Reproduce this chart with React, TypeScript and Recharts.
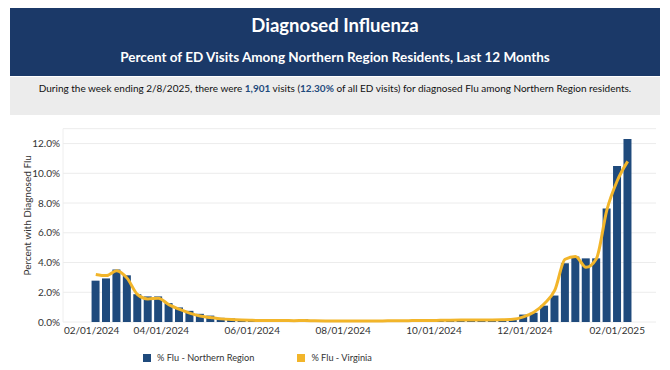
import React from "react";
import {
  ComposedChart,
  Bar,
  Line,
  XAxis,
  YAxis,
  CartesianGrid,
  Legend,
  Label,
} from "recharts";

// week ending dates (Saturdays)
const weekEnding = [
  "2024-02-17", "2024-02-24", "2024-03-02", "2024-03-09", "2024-03-16", "2024-03-23",
  "2024-03-30", "2024-04-06", "2024-04-13", "2024-04-20", "2024-04-27", "2024-05-04",
  "2024-05-11", "2024-05-18", "2024-05-25", "2024-06-01", "2024-06-08", "2024-06-15",
  "2024-06-22", "2024-06-29", "2024-07-06", "2024-07-13", "2024-07-20", "2024-07-27",
  "2024-08-03", "2024-08-10", "2024-08-17", "2024-08-24", "2024-08-31", "2024-09-07",
  "2024-09-14", "2024-09-21", "2024-09-28", "2024-10-05", "2024-10-12", "2024-10-19",
  "2024-10-26", "2024-11-02", "2024-11-09", "2024-11-16", "2024-11-23", "2024-11-30",
  "2024-12-07", "2024-12-14", "2024-12-21", "2024-12-28", "2025-01-04", "2025-01-11",
  "2025-01-18", "2025-01-25", "2025-02-01", "2025-02-08",
];

// % Flu - Northern Region
const northernRegion = [
  2.78, 2.93, 3.53, 3.14, 1.87, 1.72, 1.72, 1.27, 0.98, 0.75, 0.55, 0.43,
  0.28, 0.24, 0.19, 0.12, 0.15, 0.19, 0.15, 0.1, 0.18, 0.08, 0.06, 0.07,
  0.06, 0.05, 0.06, 0.07, 0.08, 0.08, 0.09, 0.1, 0.1, 0.11, 0.12, 0.12,
  0.13, 0.12, 0.1, 0.1, 0.15, 0.5, 0.62, 1.1, 1.78, 3.95, 4.4, 4.28,
  4.28, 7.63, 10.49, 12.3,
];

// % Flu - Virginia
const virginia = [
  3.2, 3.12, 3.45, 2.95, 1.85, 1.55, 1.6, 1.17, 0.86, 0.6, 0.4, 0.3,
  0.21, 0.16, 0.13, 0.11, 0.1, 0.1, 0.1, 0.09, 0.1, 0.08, 0.07, 0.07,
  0.07, 0.06, 0.07, 0.07, 0.08, 0.08, 0.09, 0.1, 0.1, 0.11, 0.12, 0.13,
  0.14, 0.14, 0.14, 0.15, 0.18, 0.35, 0.66, 1.23, 2.12, 4.22, 4.4, 3.68,
  4.26, 7.52, 9.5, 10.8,
];

const xTickLabels = [
  "02/01/2024", "04/01/2024", "06/01/2024", "08/01/2024",
  "10/01/2024", "12/01/2024", "02/01/2025",
];
const xRange = ["2024-01-26", "2025-02-27"];
const yTicks = [0, 2, 4, 6, 8, 10, 12];

const NAVY = "#1b3968";
const BAR = "#1f4a7c";
const GOLD = "#f2b52a";
const FONT = "Lato, 'Open Sans', sans-serif";

const isoTime = (s: string) => Date.parse(s + "T00:00:00Z");
const labelTime = (s: string) => {
  const [m, d, y] = s.split("/").map(Number);
  return Date.UTC(y, m - 1, d);
};
const fmtDate = (t: number) => {
  const d = new Date(t);
  const mm = String(d.getUTCMonth() + 1).padStart(2, "0");
  const dd = String(d.getUTCDate()).padStart(2, "0");
  return `${mm}/${dd}/${d.getUTCFullYear()}`;
};

const data = weekEnding.map((w, i) => ({
  t: isoTime(w),
  north: northernRegion[i],
  va: virginia[i],
}));

const XTick = (props: any) => {
  const { x, y, payload, index } = props;
  const first = index === 0;
  return (
    <text
      x={first ? x - 8 : x}
      y={y}
      dy="0.71em"
      textAnchor={first ? "start" : "middle"}
      fontSize={10}
      fontFamily={FONT}
      fill="#333"
    >
      {fmtDate(payload.value)}
    </text>
  );
};

const YTitle = (props: any) => {
  const vb = props.viewBox || {};
  const cx = 27;
  const cy = vb.y + vb.height / 2 - 10;
  return (
    <text
      x={cx}
      y={cy}
      transform={`rotate(-90, ${cx}, ${cy})`}
      textAnchor="middle"
      dominantBaseline="central"
      fontSize={10}
      fontFamily={FONT}
      fill="#333"
    >
      Percent with Diagnosed Flu
    </text>
  );
};

const renderLegend = (props: any) => (
  <div
    style={{
      display: "flex",
      gap: 43,
      height: 24,
      paddingTop: 3,
      boxSizing: "border-box",
      fontFamily: FONT,
      fontSize: 9.2,
      color: "#333",
    }}
  >
    {(props.payload || []).map((p: any) => (
      <span key={p.value} style={{ display: "flex", alignItems: "center" }}>
        <span
          style={{
            display: "inline-block",
            width: 8,
            height: 8,
            background: p.color,
            marginRight: 6,
          }}
        />
        {p.value}
      </span>
    ))}
  </div>
);

export default function App() {
  return (
    <div
      style={{
        position: "relative",
        width: 670,
        height: 370,
        background: "#fff",
        overflow: "hidden",
        fontFamily: FONT,
      }}
    >
      <style>{"body{margin:0}"}</style>
      <div
        style={{
          position: "absolute",
          left: 10,
          top: 8,
          width: 650,
          height: 68,
          background: NAVY,
          color: "#fff",
          fontWeight: 700,
          textAlign: "center",
        }}
      >
        <div style={{ position: "absolute", top: 7, width: "100%", fontSize: 18.5, lineHeight: "21px" }}>
          Diagnosed Influenza
        </div>
        <div style={{ position: "absolute", top: 41, width: "100%", fontSize: 13.5, lineHeight: "16px" }}>
          Percent of ED Visits Among Northern Region Residents, Last 12 Months
        </div>
      </div>
      <div
        style={{
          position: "absolute",
          left: 10,
          top: 77,
          width: 650,
          height: 38,
          background: "#ececec",
          textAlign: "center",
          fontSize: 10,
          lineHeight: "13px",
          color: "#111",
        }}
      >
        <div style={{ position: "absolute", top: 5, width: "100%" }}>
          During the week ending 2/8/2025, there were{" "}
          <b style={{ color: BAR }}>1,901</b> visits (
          <b style={{ color: BAR }}>12.30%</b> of all ED visits) for diagnosed Flu among Northern Region residents.
        </div>
      </div>
      <div style={{ position: "absolute", left: 0, top: 120 }}>
        <ComposedChart
          width={670}
          height={250}
          data={data}
          margin={{ top: 8.7, right: 14, bottom: 2, left: 0 }}
        >
          <CartesianGrid vertical={false} stroke="#ececec" />
          <XAxis
            dataKey="t"
            type="number"
            domain={[isoTime(xRange[0]), isoTime(xRange[1])]}
            ticks={xTickLabels.map(labelTime)}
            interval={0}
            height={22}
            tickSize={0}
            tickMargin={5}
            axisLine={false}
            tick={<XTick />}
          />
          <YAxis
            domain={[0, 13]}
            ticks={yTicks}
            width={63}
            tickSize={0}
            tickMargin={3}
            axisLine={{ stroke: "#eeeeee" }}
            tick={{ fontSize: 10, fill: "#333", fontFamily: FONT }}
            tickFormatter={(v: number) => `${v.toFixed(1)}%`}
          >
            <Label content={<YTitle />} />
          </YAxis>
          <Legend
            verticalAlign="bottom"
            align="left"
            content={renderLegend}
            wrapperStyle={{ left: 143, width: 400 }}
          />
          <Bar
            dataKey="north"
            name="% Flu - Northern Region"
            fill={BAR}
            barSize={8}
            isAnimationActive={false}
          />
          <Line
            type="monotone"
            dataKey="va"
            name="% Flu - Virginia"
            stroke={GOLD}
            strokeWidth={3}
            dot={false}
            isAnimationActive={false}
          />
        </ComposedChart>
      </div>
    </div>
  );
}
